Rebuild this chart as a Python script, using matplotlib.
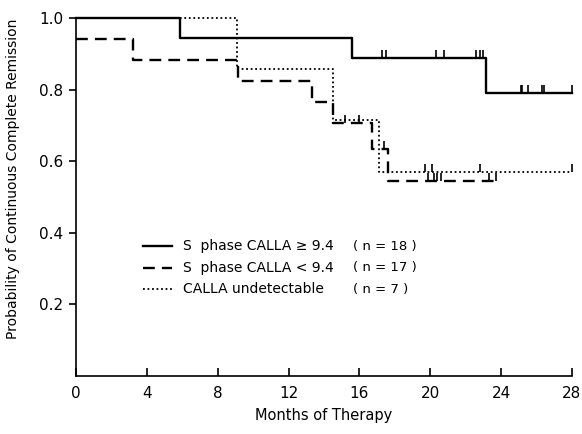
import numpy as np
import matplotlib
matplotlib.use("Agg")
import matplotlib.pyplot as plt

# ---- data ----
solid_times = [0, 5.9, 15.6, 23.15]
solid_surv = [1.0, 0.944, 0.889, 0.790]
solid_end = 28.0
solid_censor = [17.3, 17.5, 20.3, 20.8, 22.6, 22.8, 23.0, 25.1, 25.2, 25.5, 26.3, 26.4, 28.0]

dashed_times = [0, 3.2, 9.15, 13.3, 14.5, 16.7, 17.6]
dashed_surv = [0.941, 0.882, 0.824, 0.765, 0.706, 0.635, 0.544]
dashed_end = 23.7
dashed_censor = [15.2, 16.0, 17.4, 19.9, 20.2, 20.4, 20.6, 23.3, 23.7]

dotted_times = [0, 9.1, 14.5, 17.1]
dotted_surv = [1.0, 0.857, 0.714, 0.571]
dotted_end = 28.0
dotted_censor = [19.7, 20.1, 22.8, 28.0]

labels = ["S  phase CALLA \u2265 9.4", "S  phase CALLA < 9.4", "CALLA undetectable"]
n_labels = ["( n = 18 )", "( n = 17 )", "( n = 7 )"]

x_ticks = [0, 4, 8, 12, 16, 20, 24, 28]
y_ticks = [0.2, 0.4, 0.6, 0.8, 1.0]

plt.rcParams['font.family'] = ['DejaVu Sans']
fig = plt.figure(figsize=(5.82, 4.34), dpi=100)
ax = fig.add_axes([0.1306, 0.1336, 0.852, 0.825])

styles = [dict(ls='-', lw=1.7), dict(ls=(0, (5, 3)), lw=1.7), dict(ls=(0, (1, 1.5)), lw=1.3)]
series = [(solid_times, solid_surv, solid_end, solid_censor),
          (dashed_times, dashed_surv, dashed_end, dashed_censor),
          (dotted_times, dotted_surv, dotted_end, dotted_censor)]

for (t, s, end, cens), st in zip(series, styles):
    xs = list(t) + [end]
    ys = list(s) + [s[-1]]
    ax.step(xs, ys, where='post', color='black', clip_on=False, **st)
    t_arr = np.array(t)
    s_arr = np.array(s)
    idx = np.searchsorted(t_arr, np.array(cens), side='right') - 1
    lev = s_arr[idx]
    ax.vlines(cens, lev, lev + 0.022, color='black', lw=1.2, clip_on=False)

ax.set_xlim(0, 28)
ax.set_ylim(0, 1.0)
ax.set_xticks(x_ticks)
ax.set_xticklabels([str(v) for v in x_ticks])
ax.set_yticks(y_ticks)
ax.set_yticklabels([f"{v:.1f}" for v in y_ticks])
ax.spines['top'].set_visible(False)
ax.spines['right'].set_visible(False)
ax.spines['left'].set_linewidth(1.2)
ax.spines['bottom'].set_linewidth(1.2)
ax.tick_params(axis='x', direction='in', length=6, width=1.2, labelsize=11, pad=7)
ax.tick_params(axis='y', direction='out', length=5, width=1.2, labelsize=11, pad=4)

ax.set_xlabel("Months of Therapy", fontsize=10.5, labelpad=5)
ax.set_ylabel("Probability of Continuous Complete Remission", fontsize=10)
ax.yaxis.set_label_coords(-0.113, 0.55)

# legend drawn manually
rows_y = [0.363, 0.302, 0.243]
for yy, lab, nl, st in zip(rows_y, labels, n_labels, styles):
    ax.plot([0.135, 0.194], [yy, yy], transform=ax.transAxes, color='black', **st)
    ax.text(0.216, yy, lab, transform=ax.transAxes, va='center', ha='left', fontsize=10)
    ax.text(0.558, yy, nl, transform=ax.transAxes, va='center', ha='left', fontsize=9.5)

fig.savefig("out.png", dpi=100)
